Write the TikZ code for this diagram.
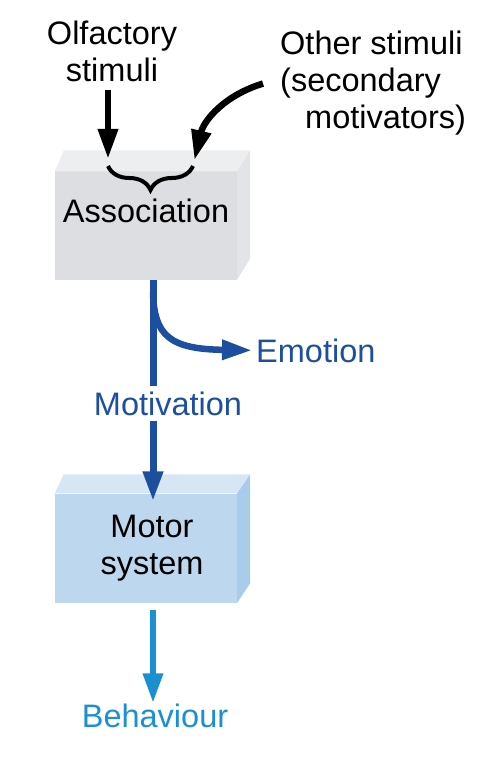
\documentclass[tikz,border=0pt]{standalone}
\usepackage{fontspec}
\setmainfont{Liberation Sans}
\usepackage{xcolor}
\usepackage{tikz}
\usetikzlibrary{positioning, arrows.meta, decorations.pathreplacing}

\definecolor{darkblue}{HTML}{1D4FA0}
\definecolor{lightblue}{HTML}{1A90D3}
\definecolor{greyfront}{HTML}{DCDEE2}
\definecolor{greytop}{HTML}{EDEEF0}
\definecolor{greyside}{HTML}{E3E4E8}
\definecolor{bluefront}{HTML}{BCD7EE}
\definecolor{bluetop}{HTML}{D6E6F5}
\definecolor{blueside}{HTML}{A9CCEB}

\begin{document}
\begin{tikzpicture}[x=1pt, y=-1pt, >={Triangle[length=30pt, width=19pt]},
  every node/.style={font=\fontsize{32.5}{37}\selectfont, inner sep=0pt},
  box/.style={minimum width=182pt, minimum height=108pt},
  arr/.style={->, line width=6.5pt}]
  \useasboundingbox (0,0) rectangle (492,759);

  \node (olf) [anchor=base, align=center] at (112,82) {Olfactory\\stimuli};
  \node (other) [anchor=base west, align=left] at (280,129) {Other stimuli\\(secondary\\\hspace*{25pt}motivators)};

  \node (assoc) [box, fill=greyfront, text height=20pt, text depth=26pt] at (146,225.5) {Association};
  \fill[greytop] (assoc.north west) -- ++(9,-21) -- ([shift={(13,-21)}]assoc.north east) -- (assoc.north east) -- cycle;
  \fill[greyside] (assoc.north east) -- ++(13,-21) -- ++(0,108) -- (assoc.south east) -- cycle;

  \node (motor) [box, fill=bluefront, minimum height=109pt, align=center] at (146,548) {\hspace*{12pt}Motor\\\hspace*{12pt}system};
  \fill[bluetop] (motor.north west) -- ++(9,-19) -- ([shift={(13,-19)}]motor.north east) -- (motor.north east) -- cycle;
  \fill[blueside] (motor.north east) -- ++(13,-19) -- ++(0,109) -- (motor.south east) -- cycle;

  \node (emo) [anchor=base west, text=darkblue] at (256,362) {Emotion};
  \node (motiv) [anchor=base, text=darkblue, inner ysep=5pt] at (168,415) {Motivation};
  \node (behav) [anchor=base, text=lightblue] at (155,727) {Behaviour};

  \coordinate (bl) at (108,166);
  \coordinate (br) at (193,166);
  \coordinate (mx) at (153,292);

  \draw[decorate, decoration={brace, amplitude=24pt, mirror}, line width=4pt] (bl) -- (br);
  \draw[arr, shorten >=7pt] ([yshift=-7pt]olf.south -| bl) -- (bl);
  \draw[arr, shorten >=6pt] ([xshift=-17pt]other.west) .. controls (225,95) and (204,120) .. (br);

  \draw[darkblue, line width=7pt] (assoc.south -| mx) -- (motiv.north -| mx);
  \draw[arr, darkblue, line width=7pt] (motiv.south -| mx) -- ([yshift=-8pt]motor.north -| mx);
  \draw[arr, darkblue, shorten >=4pt] (mx) .. controls (154,336) and (170,349) .. (emo.west);

  \draw[arr, lightblue] ([yshift=-7pt]motor.south -| mx) -- (behav.north -| mx);
\end{tikzpicture}
\end{document}
